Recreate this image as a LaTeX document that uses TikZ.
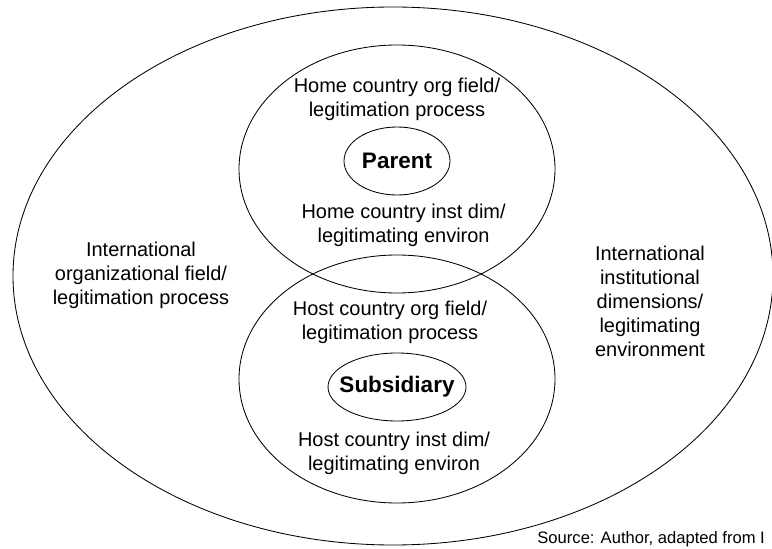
\documentclass[tikz,border=0pt]{standalone}
\usepackage{fontspec}
\setmainfont{Liberation Sans}
\begin{document}
\begin{tikzpicture}[line width=0.6pt,
    region/.style={align=center, font=\fontsize{14.2pt}{17.1pt}\selectfont},
    core/.style={font=\fontsize{16pt}{19pt}\selectfont\bfseries}]
    \useasboundingbox (0,0) rectangle (19.3,13.7);
    % international field
    \draw (9.825,6.8) ellipse [x radius=9.5, y radius=6.725];
    \node[region] (intorg) at (3.525,6.825) {International\\organizational field/\\legitimation process};
    \node[region] (intinst) at (16.25,6.16) {International\\institutional\\dimensions/\\legitimating\\environment};
    % home country
    \draw (9.925,9.475) ellipse [x radius=3.95, y radius=3.1];
    \node[region] (homeorg) at (9.925,11.225) {Home country org field/\\legitimation process};
    \node[region] (homeinst) at (10.09,8.075) {Home country inst dim/\\legitimating environ};
    \node[core] (parent) at (9.925,9.675) {Parent};
    \draw (parent.center) ellipse [x radius=1.325, y radius=0.85];
    % host country
    \draw (9.925,4.225) ellipse [x radius=3.95, y radius=3.1];
    \node[region] (hostorg) at (9.75,5.65) {Host country org field/\\legitimation process};
    \node[region] (hostinst) at (9.85,2.375) {Host country inst dim/\\legitimating environ};
    \node[core] (subsidiary) at (9.925,4.025) {Subsidiary};
    \draw (subsidiary.center) ellipse [x radius=1.725, y radius=0.85];
    % source
    \node[anchor=base west, inner sep=0pt, font=\fontsize{11.8pt}{14pt}\selectfont] (source) at (13.425,0.12) {Source: Author, adapted from I};
\end{tikzpicture}
\end{document}
